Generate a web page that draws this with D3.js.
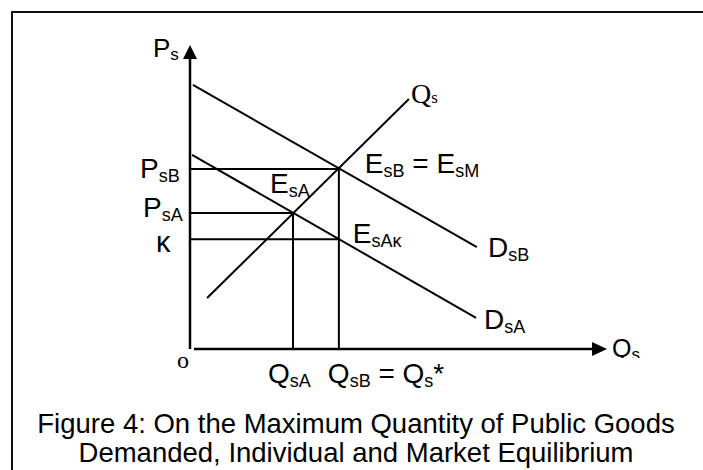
<!DOCTYPE html>
<html>
<head>
<meta charset="utf-8">
<script src="https://cdn.jsdelivr.net/npm/d3@7"></script>
<style>
body { margin: 0; background: #fff; }
text { font-family: "Liberation Sans", Arial, sans-serif; fill: #000; }
</style>
</head>
<body>
<div id="chart"></div>
<script>
// Curves as [quantity, price] pairs (diagram units)
var demandB = [[0.07, 6.95], [6.88, 2.68]];
var demandA = [[0.05, 5.11], [6.86, 0.82]];
var supply = [[0.41, 1.34], [5.25, 6.58]];

// Equilibrium points
var eqB = [3.57, 4.74];   // E_sB = E_sM
var eqA = [2.47, 3.58];   // E_sA
var eqAk = [3.57, 2.89];  // E_sAκ

// Axis extents
var xMax = 10;
var yMax = 8;

var captionLines = [
	"Figure 4: On the Maximum Quantity of Public Goods",
	"Demanded, Individual and Market Equilibrium"
];

// Set up SVG width and height
var svgWidth = 703;
var svgHeight = 470;

var svg = d3.select("#chart")
	.append("svg")
	.attr("width", svgWidth)
	.attr("height", svgHeight);

var x = d3.scaleLinear().domain([0, xMax]).range([190, 607]);
var y = d3.scaleLinear().domain([0, yMax]).range([349, 45]);

// frame (top and left edges)
svg.append("path")
	.attr("d", "M12,470 V12 H703")
	.attr("fill", "none")
	.attr("stroke", "#111")
	.attr("stroke-width", 2);

// axes
var axes = svg.append("g")
	.attr("stroke", "#000")
	.attr("stroke-width", 2.5);

var yArrowBase = y(yMax) + 14;
var xArrowBase = x(xMax) - 15;

axes.append("line")
	.attr("x1", x(0)).attr("y1", y(0))
	.attr("x2", x(0)).attr("y2", yArrowBase);

axes.append("line")
	.attr("x1", x(0) + 4).attr("y1", y(0))
	.attr("x2", xArrowBase).attr("y2", y(0));

svg.append("path")
	.attr("d", `M${x(0) - 7},${yArrowBase} L${x(0)},${y(yMax)} L${x(0) + 7},${yArrowBase} Z`)
	.attr("fill", "#000");

svg.append("path")
	.attr("d", `M${xArrowBase},${y(0) - 7} L${x(xMax)},${y(0)} L${xArrowBase},${y(0) + 7} Z`)
	.attr("fill", "#000");

// curves and guide lines
var line = d3.line().x(d => x(d[0])).y(d => y(d[1]));

var curves = svg.append("g")
	.attr("fill", "none")
	.attr("stroke", "#000")
	.attr("stroke-width", 2);

[demandB, demandA, supply].forEach(function(c) {
	curves.append("path").attr("d", line(c));
});

[eqB, eqA, eqAk].forEach(function(e) {
	curves.append("path").attr("d", line([[0, e[1]], e]));
});

[eqA, eqB].forEach(function(e) {
	curves.append("path").attr("d", line([[e[0], 0], e]));
});

// text helper: parts are [string, "m" | "s" | "t"] (main, subscript, small on baseline)
function label(px, py, parts, size, family, subSize, subShift) {
	var t = svg.append("text")
		.attr("x", px)
		.attr("y", py)
		.style("font-size", size + "px");
	if (family) t.style("font-family", family);
	var shift = 0;
	parts.forEach(function(p) {
		var target = p[1] === "s" ? subShift : 0;
		t.append("tspan")
			.attr("dy", target - shift)
			.style("font-size", (p[1] === "m" ? size : subSize) + "px")
			.text(p[0]);
		shift = target;
	});
	return t;
}

var serif = "'Liberation Serif', 'Times New Roman', serif";

// axis titles
label(x(0) - 37, y(yMax) + 12, [["P", "m"], ["s", "s"]], 26, null, 17, 3);
svg.append("clipPath").attr("id", "qclip")
	.append("rect").attr("x", 0).attr("y", 0).attr("width", svgWidth).attr("height", y(0) + 9);
label(x(xMax) + 5, y(0) + 8, [["Q", "m"], ["s", "s"]], 25, null, 17, 3)
	.attr("clip-path", "url(#qclip)");
label(x(0) - 7, y(0) + 19, [["o", "m"]], 24, serif, 24, 0)
	.attr("text-anchor", "middle");

// price levels
label(x(0) - 50, y(eqB[1]) + 9, [["P", "m"], ["sB", "s"]], 28, null, 18, 4);
label(x(0) - 47, y(eqA[1]) + 4, [["P", "m"], ["sA", "s"]], 28, null, 18, 4);
label(x(0) - 34, y(eqAk[1]) + 13, [["κ", "m"]], 29, null, 18, 4);

// quantity levels
label(x(eqA[0]) - 25, y(0) + 34, [["Q", "m"], ["sA", "s"]], 28, null, 18, 4);
label(x(eqB[0]) - 11, y(0) + 34, [["Q", "m"], ["sB", "s"], [" = Q", "m"], ["s", "s"], ["*", "m"]], 28, null, 18, 4);

// curve and point labels
label(x(supply[1][0]) + 2, y(supply[1][1]) + 4, [["Q", "m"], ["s", "t"]], 28, serif, 17, 0);
label(x(demandB[1][0]) + 11, y(demandB[1][1]) + 10, [["D", "m"], ["sB", "s"]], 28, null, 18, 4);
label(x(demandA[1][0]) + 8, y(demandA[1][1]) + 11, [["D", "m"], ["sA", "s"]], 28, null, 18, 4);
label(x(eqB[0]) + 26, y(eqB[1]) + 4, [["E", "m"], ["sB", "s"], [" = E", "m"], ["sM", "s"]], 28, null, 18, 4);
label(x(eqA[0]) - 23, y(eqA[1]) - 20, [["E", "m"], ["sA", "s"]], 28, null, 18, 4);
label(x(eqAk[0]) + 14, y(eqAk[1]) + 4, [["E", "m"], ["sAκ", "s"]], 28, null, 18, 4);

// caption
svg.append("g")
	.selectAll("text")
	.data(captionLines)
	.enter()
	.append("text")
	.attr("x", 356)
	.attr("y", (d, i) => 433 + i * 29)
	.attr("text-anchor", "middle")
	.style("font-size", "27.5px")
	.text(d => d);
</script>
</body>
</html>
